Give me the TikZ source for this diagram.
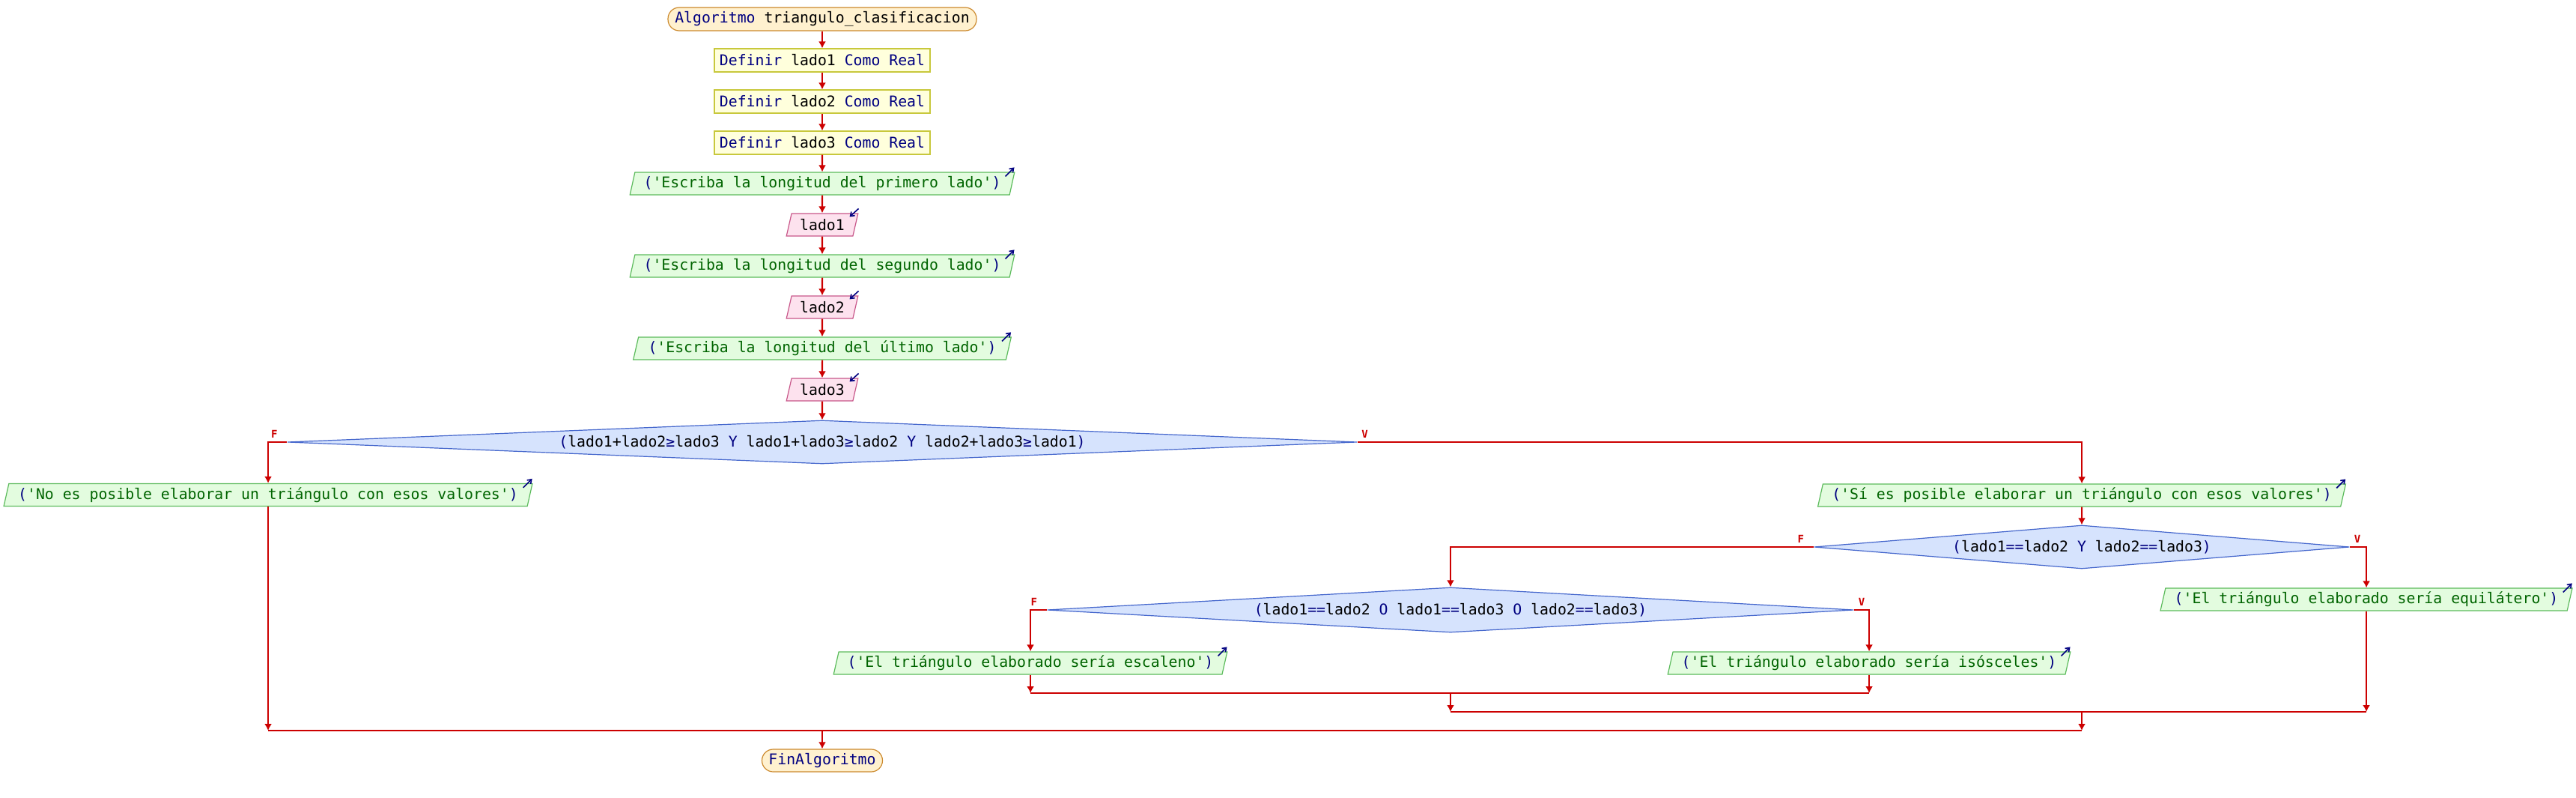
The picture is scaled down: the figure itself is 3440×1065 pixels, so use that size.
\documentclass[tikz,border=0pt]{standalone}
\usepackage{fontspec}
\usepackage{xcolor}
\usepackage{tikz}
\usetikzlibrary{arrows.meta,calc,positioning,shapes.geometric}

\setmonofont{DejaVu Sans Mono}

\definecolor{flowred}{HTML}{CC0000}
\definecolor{kwblue}{HTML}{000080}
\definecolor{litgreen}{HTML}{006400}
\definecolor{termfill}{HTML}{FFF1CF}
\definecolor{termline}{HTML}{CC8A2E}
\definecolor{deffill}{HTML}{FFFFDC}
\definecolor{defline}{HTML}{C8C83C}
\definecolor{outfill}{HTML}{E3FCDF}
\definecolor{outborder}{HTML}{5CBB5C}
\definecolor{infill}{HTML}{FDE2EE}
\definecolor{inborder}{HTML}{C8578A}
\definecolor{condfill}{HTML}{D6E3FD}
\definecolor{condline}{HTML}{4466CC}

\newcommand{\kw}[1]{\textcolor{kwblue}{#1}}
\newcommand{\lit}[1]{\textcolor{litgreen}{#1}}

\tikzset{
  base/.style={draw, line width=1.2pt, minimum height=30pt, inner sep=0pt},
  term/.style={base, rounded corners=15pt, fill=termfill, draw=termline, text=kwblue, minimum height=31pt},
  defbox/.style={base, fill=deffill, draw=defline, minimum width=288pt, minimum height=31pt},
  para/.style={base, trapezium, trapezium left angle=72, trapezium right angle=108,
    trapezium stretches=true},
  outbox/.style={para, fill=outfill, draw=outborder},
  inbox/.style={para, fill=infill, draw=inborder, minimum width=96pt},
  cond/.style={base, diamond, fill=condfill, draw=condline},
  flow/.style={draw=flowred, line width=2.1pt, -{Latex[length=9pt,width=10pt]}},
  bar/.style={draw=flowred, line width=2.8pt},
  flag/.style={text=flowred, font=\ttfamily\bfseries\fontsize{14}{15}\selectfont},
  outicon/.style={draw=kwblue, line width=1.6pt, -{Straight Barb[length=5pt,width=7pt]}},
}

\begin{document}
\begin{tikzpicture}[x=1pt,y=-1pt,font=\ttfamily\fontsize{19.8}{22}\selectfont,>=Latex]
  \useasboundingbox (0,0) rectangle (3440,1065);

  % main column
  \node[term,minimum width=412] (start) at (1098,25.5) {\kw{Algoritmo} \textcolor{black}{triangulo\_clasificacion}};
  \node[defbox] (def1) at (1098,80.5) {\kw{Definir} lado1 \kw{Como Real}};
  \node[defbox] (def2) at (1098,135.5) {\kw{Definir} lado2 \kw{Como Real}};
  \node[defbox] (def3) at (1098,190.5) {\kw{Definir} lado3 \kw{Como Real}};
  \node[outbox,minimum width=517] (out1) at (1098,245) {\kw{(}\lit{'Escriba la longitud del primero lado'}\kw{)}};
  \node[inbox] (in1) at (1098,300) {lado1};
  \node[outbox,minimum width=517] (out2) at (1098,355) {\kw{(}\lit{'Escriba la longitud del segundo lado'}\kw{)}};
  \node[inbox] (in2) at (1098,410) {lado2};
  \node[outbox,minimum width=505] (out3) at (1098,465) {\kw{(}\lit{'Escriba la longitud del último lado'}\kw{)}};
  \node[inbox] (in3) at (1098,520) {lado3};

  % decisions
  \node[cond,aspect=24.6,minimum width=1428,minimum height=58] (d1) at (1098,590)
    {\kw{(}lado1+lado2\kw{≥}lado3 \kw{Y} lado1+lado3\kw{≥}lado2 \kw{Y} lado2+lado3\kw{≥}lado1\kw{)}};
  \node[outbox,minimum width=708] (outNo) at (358,660.5) {\kw{(}\lit{'No es posible elaborar un triángulo con esos valores'}\kw{)}};
  \node[outbox,minimum width=707] (outSi) at (2780,661) {\kw{(}\lit{'Sí es posible elaborar un triángulo con esos valores'}\kw{)}};
  \node[cond,aspect=12.3,minimum width=715,minimum height=58] (d2) at (2780,730)
    {\kw{(}lado1\kw{==}lado2 \kw{Y} lado2\kw{==}lado3\kw{)}};
  \node[outbox,minimum width=553] (outEq) at (3160,800) {\kw{(}\lit{'El triángulo elaborado sería equilátero'}\kw{)}};
  \node[cond,aspect=18,minimum width=1077,minimum height=60] (d3) at (1937,814)
    {\kw{(}lado1\kw{==}lado2 \kw{O} lado1\kw{==}lado3 \kw{O} lado2\kw{==}lado3\kw{)}};
  \node[outbox,minimum width=528] (outEsc) at (1376,885) {\kw{(}\lit{'El triángulo elaborado sería escaleno'}\kw{)}};
  \node[outbox,minimum width=540] (outIso) at (2496,885) {\kw{(}\lit{'El triángulo elaborado sería isósceles'}\kw{)}};
  \node[term,minimum width=161,minimum height=30] (stop) at (1098,1015) {FinAlgoritmo};

  % in/out marks
  \foreach \n in {out1,out2,out3,outNo,outSi,outEq,outEsc,outIso}
    \draw[outicon] ([shift={(-13,6)}]\n.top right corner) -- ++(12,-12);
  \foreach \n in {in1,in2,in3}
    \draw[outicon] ([shift={(0,-6)}]\n.top right corner) -- ++(-12,11);

  % F / V flags
  \node[flag] (fd1) at ([shift={(-17,-11)}]d1.west) {F};
  \node[flag] (vd1) at ([shift={(10,-11)}]d1.east) {V};
  \node[flag] (fd2) at ([shift={(-17,-11)}]d2.west) {F};
  \node[flag] (vd2) at ([shift={(10,-11)}]d2.east) {V};
  \node[flag] (fd3) at ([shift={(-17,-11)}]d3.west) {F};
  \node[flag] (vd3) at ([shift={(10,-11)}]d3.east) {V};

  % flow
  \foreach \a/\b in {start/def1,def1/def2,def2/def3,def3/out1,out1/in1,in1/out2,out2/in2,in2/out3,out3/in3,in3/d1}
    \draw[flow] (\a) -- (\b);
  \draw[flow] (d1.west) -| (outNo.north);
  \draw[flow] (d1.east) -| (outSi.north);
  \draw[flow] (outSi) -- (d2);
  \draw[flow] (d2.west) -| (d3.north);
  \draw[flow] (d2.east) -| (outEq.north);
  \draw[flow] (d3.west) -| (outEsc.north);
  \draw[flow] (d3.east) -| (outIso.north);

  % joins
  \coordinate (j3) at (1937,925);
  \coordinate (j2) at (2780,950);
  \coordinate (j1) at (1098,975);
  \draw[flow] (outEsc.south) -- (outEsc.south |- j3);
  \draw[flow] (outIso.south) -- (outIso.south |- j3);
  \draw[bar] (outEsc.south |- j3) -- (outIso.south |- j3);
  \draw[flow] (j3) -- (j3 |- j2);
  \draw[flow] (outEq.south) -- (outEq.south |- j2);
  \draw[bar] (j3 |- j2) -- (outEq.south |- j2);
  \draw[flow] (j2) -- (j2 |- j1);
  \draw[flow] (outNo.south) -- (outNo.south |- j1);
  \draw[bar] (outNo.south |- j1) -- (j2 |- j1);
  \draw[flow] (j1) -- (stop);
\end{tikzpicture}
\end{document}
